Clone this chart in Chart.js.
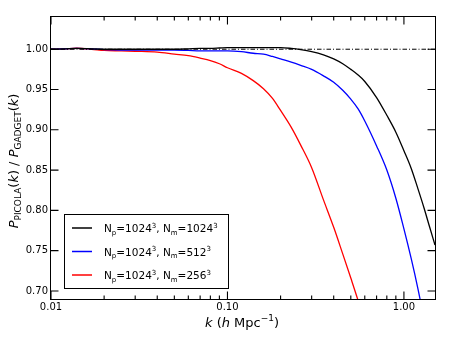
<!DOCTYPE html>
<html>
<head>
<meta charset="utf-8">
<script src="https://cdn.jsdelivr.net/npm/chart.js@4"></script>
<style>
  html, body { margin: 0; padding: 0; background: #fff; }
  #wrap { width: 458px; height: 345px; }
</style>
</head>
<body>
<div id="wrap"><canvas id="ratioChart" width="458" height="345"></canvas></div>
<script>
// ── Data ─────────────────────────────────────────────────────────────────────
const kValues = [0.01, 0.012, 0.014, 0.017, 0.02, 0.025, 0.03, 0.04, 0.05, 0.06, 0.07, 0.08, 0.09,
  0.10, 0.12, 0.14, 0.16, 0.18, 0.20, 0.23, 0.26, 0.30, 0.35, 0.40, 0.45, 0.50, 0.55, 0.60,
  0.70, 0.80, 0.90, 1.0, 1.1, 1.2, 1.3, 1.4, 1.5];

// N_m = 1024^3
const ratioMesh1024 = [1.000, 1.0005, 1.001, 1.0005, 1.000, 1.000, 1.000, 1.000, 1.000, 1.0005, 1.001, 1.001, 1.0015,
  1.002, 1.002, 1.002, 1.002, 1.002, 1.002, 1.001, 0.9995, 0.997, 0.993, 0.988, 0.982, 0.975, 0.968, 0.960,
  0.940, 0.918, 0.897, 0.874, 0.852, 0.827, 0.803, 0.779, 0.757];

// N_m = 512^3
const ratioMesh512 = [1.000, 1.0005, 1.001, 1.0005, 0.9995, 0.999, 0.999, 0.999, 0.999, 0.9985, 0.998, 0.998, 0.998,
  0.998, 0.997, 0.995, 0.994, 0.991, 0.988, 0.984, 0.980, 0.975, 0.967, 0.959, 0.949, 0.938, 0.926, 0.911,
  0.880, 0.850, 0.815, 0.777, 0.740, 0.703, 0.665, 0.63, 0.60];

// N_m = 256^3
const ratioMesh256 = [1.000, 1.0005, 1.0012, 1.000, 0.9985, 0.998, 0.9975, 0.9965, 0.994, 0.992, 0.989, 0.986, 0.982,
  0.977, 0.970, 0.961, 0.951, 0.939, 0.924, 0.903, 0.881, 0.853, 0.813, 0.779, 0.746, 0.716, 0.688, 0.660,
  0.61, 0.57, 0.53, 0.50, 0.47, 0.44, 0.41, 0.38, 0.35];

const referenceLevel = [1.0, 1.0];
const referenceK     = [0.01, 1.5];

const yTicks       = [0.70, 0.75, 0.80, 0.85, 0.90, 0.95, 1.00];
const xMajorTicks  = [0.01, 0.1, 1.0];
const xTickLabels  = ["0.01", "0.10", "1.00"];
const xMinorTicks  = [0.02, 0.03, 0.04, 0.05, 0.06, 0.07, 0.08, 0.09, 0.2, 0.3, 0.4, 0.5, 0.6, 0.7, 0.8, 0.9];

const legendMesh   = ["1024", "512", "256"];
const seriesColors = ["#000000", "#0000ff", "#ff0000"];

// ── Helpers ──────────────────────────────────────────────────────────────────
const FONT = "'DejaVu Sans', 'Bitstream Vera Sans', sans-serif";
const toPoints = (ys) => kValues.map((k, i) => ({ x: k, y: ys[i] }));

// text runs: [text, size, italic, dy]
function measureRuns(ctx, runs) {
  let w = 0;
  runs.forEach((r) => {
    ctx.font = `${r[2] ? "italic " : ""}${r[1]}px ${FONT}`;
    w += ctx.measureText(r[0]).width;
  });
  return w;
}
function drawRuns(ctx, runs, x, y) {
  runs.forEach((r) => {
    ctx.font = `${r[2] ? "italic " : ""}${r[1]}px ${FONT}`;
    ctx.fillText(r[0], x, y + (r[3] || 0));
    x += ctx.measureText(r[0]).width;
  });
}

// frame, inward ticks, axis titles and legend
const decorPlugin = {
  id: "decor",
  afterDraw(chart) {
    const { ctx, chartArea: a, scales } = chart;
    const L = Math.round(a.left) - 0.5, R = Math.round(a.right) + 0.5;
    const T = Math.round(a.top) - 0.5,  B = Math.round(a.bottom) + 0.5;
    ctx.save();
    ctx.setLineDash([]);
    ctx.strokeStyle = "#000";
    ctx.lineWidth = 1;
    ctx.strokeRect(L, T, R - L, B - T);

    // ticks (inside, mirrored), drawn at the exact scale position
    ctx.lineWidth = 1.1;
    ctx.beginPath();
    const xTick = (v, len) => {
      const px = scales.x.getPixelForValue(v);
      ctx.moveTo(px, B); ctx.lineTo(px, B - len);
      ctx.moveTo(px, T); ctx.lineTo(px, T + len);
    };
    xMajorTicks.forEach((v) => xTick(v, 8));
    xMinorTicks.forEach((v) => xTick(v, 4));
    yTicks.forEach((v) => {
      const py = scales.y.getPixelForValue(v);
      ctx.moveTo(L, py); ctx.lineTo(L + 8, py);
      ctx.moveTo(R, py); ctx.lineTo(R - 8, py);
    });
    ctx.stroke();

    ctx.fillStyle = "#000";
    ctx.textBaseline = "alphabetic";
    ctx.textAlign = "left";

    // x title: k (h Mpc^-1)
    const xRuns = [["k", 13, true], [" (", 13], ["h", 13, true], [" Mpc", 13], ["\u22121", 9, false, -6], [")", 13]];
    const xw = measureRuns(ctx, xRuns);
    drawRuns(ctx, xRuns, 242 - xw / 2, 327);

    // y title: P_PICOLA(k) / P_GADGET(k)
    const yRuns = [["P", 13, true], ["PICOLA", 9, false, 3], ["(", 13], ["k", 13, true], [")", 13],
      [" / ", 13], ["P", 13, true], ["GADGET", 9, false, 3], ["(", 13], ["k", 13, true], [")", 13]];
    const yw = measureRuns(ctx, yRuns);
    ctx.save();
    ctx.translate(18, 161);
    ctx.rotate(-Math.PI / 2);
    drawRuns(ctx, yRuns, -yw / 2, 0);
    ctx.restore();

    // legend
    ctx.fillStyle = "#fff";
    ctx.fillRect(65, 215, 163, 73);
    ctx.strokeStyle = "#000";
    ctx.lineWidth = 1;
    ctx.strokeRect(64.5, 214.5, 164, 74);
    legendMesh.forEach((m, i) => {
      const y = 228 + i * 23.5;
      ctx.strokeStyle = seriesColors[i];
      ctx.lineWidth = 1.5;
      ctx.beginPath();
      ctx.moveTo(72, y); ctx.lineTo(92, y);
      ctx.stroke();
      ctx.fillStyle = "#000";
      drawRuns(ctx, [["N", 10.5], ["p", 7, false, 2.5], ["=", 10.5], ["1024", 10.5], ["3", 7, false, -4.5],
        [", N", 10.5], ["m", 7, false, 2.5], ["=", 10.5], [m, 10.5], ["3", 7, false, -4.5]], 104, y + 4);
    });
    ctx.restore();
  },
};

// ── Chart ────────────────────────────────────────────────────────────────────
const lineStyle = (color) => ({
  borderColor: color, borderWidth: 1.3, pointRadius: 0, cubicInterpolationMode: "monotone", fill: false,
});

new Chart(document.getElementById("ratioChart").getContext("2d"), {
  type: "line",
  data: {
    datasets: [
      { data: referenceK.map((k, i) => ({ x: k, y: referenceLevel[i] })),
        borderColor: "#000", borderWidth: 1, borderDash: [4.5, 2, 1, 2], pointRadius: 0, order: 0 },
      { data: toPoints(ratioMesh256),  ...lineStyle(seriesColors[2]), order: 3 },
      { data: toPoints(ratioMesh512),  ...lineStyle(seriesColors[1]), order: 2 },
      { data: toPoints(ratioMesh1024), ...lineStyle(seriesColors[0]), order: 1 },
    ],
  },
  options: {
    responsive: false,
    animation: false,
    events: [],
    layout: { padding: { top: 17, right: 23, left: 0, bottom: 0 } },
    plugins: { legend: { display: false }, tooltip: { enabled: false } },
    scales: {
      x: {
        type: "logarithmic",
        min: 0.01, max: 1.5,
        grid: { display: false, drawTicks: false },
        border: { display: false },
        afterBuildTicks: (s) => { s.ticks = xMajorTicks.map((v) => ({ value: v })); },
        afterFit: (s) => { s.height = 46; },
        ticks: {
          autoSkip: false, maxRotation: 0, padding: 2, color: "#000",
          font: { family: FONT, size: 10 },
          callback: (v) => xTickLabels[xMajorTicks.findIndex((t) => Math.abs(t - v) < 1e-9)] || "",
        },
      },
      y: {
        min: 0.69, max: 1.04,
        grid: { display: false, drawTicks: false },
        border: { display: false },
        afterBuildTicks: (s) => { s.ticks = yTicks.map((v) => ({ value: v })); },
        afterFit: (s) => { s.width = 51; },
        ticks: {
          autoSkip: false, padding: 3, color: "#000",
          font: { family: FONT, size: 10 },
          callback: (v) => Number(v).toFixed(2),
        },
      },
    },
  },
  plugins: [decorPlugin],
});
</script>
</body>
</html>
